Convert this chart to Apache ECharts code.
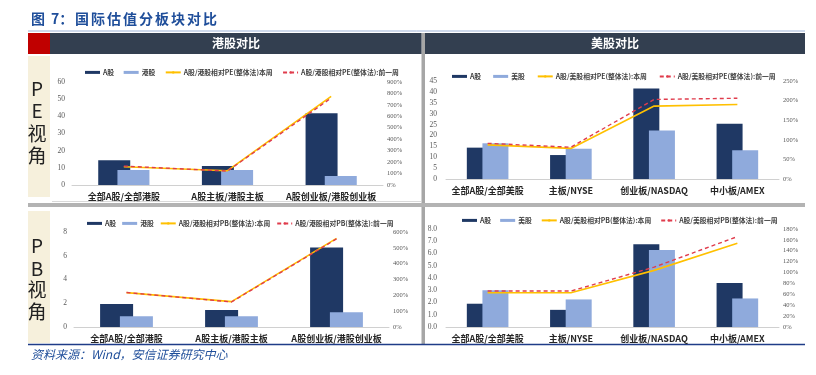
<!DOCTYPE html>
<html><head><meta charset="utf-8">
<script src="https://cdn.jsdelivr.net/npm/echarts@6/dist/echarts.min.js"></script>
<style>html,body{margin:0;padding:0;background:#fff}#c{width:816px;height:375px}</style>
</head><body><div id="c"></div>
<script>
const categoriesHK = ['全部A股/全部港股', 'A股主板/港股主板', 'A股创业板/港股创业板'];
const categoriesUS = ['全部A股/全部美股', '主板/NYSE', '创业板/NASDAQ', '中小板/AMEX'];
const hkPE_A = [14.4, 11.1, 41.8];
const hkPE_H = [8.7, 8.7, 5.2];
const hkPE_relNow = [160, 125, 775];
const hkPE_relPrev = [165, 122, 760];
const usPE_A = [14.4, 11.0, 41.6, 25.4];
const usPE_US = [16.4, 13.9, 22.3, 13.2];
const usPE_relNow = [87, 78, 186, 190];
const usPE_relPrev = [91, 81, 203, 206];
const hkPB_A = [1.94, 1.43, 6.7];
const hkPB_H = [0.9, 0.9, 1.24];
const hkPB_relNow = [217, 160, 560];
const hkPB_relPrev = [218, 158, 556];
const usPB_A = [1.9, 1.4, 6.75, 3.6];
const usPB_US = [3.0, 2.25, 6.28, 2.33];
const usPB_relNow = [63, 63, 104, 154];
const usPB_relPrev = [66, 66, 110, 166];
// axis ranges [min, max, interval]
const leftAxes = [[0, 60, 10], [0, 45, 5], [0, 8, 2], [0, 8, 1]];
const rightAxes = [[0, 900, 100], [0, 250, 50], [0, 600, 100], [0, 180, 20]];

const C_A = '#1f3864', C_B = '#8faadc', C_NOW = '#ffc000', C_PREV = '#e03c4c';
const NUMF = '"Liberation Serif", serif';
const CJK = '"Noto Sans CJK SC", sans-serif';

const chart = echarts.init(document.getElementById('c'));
const grids = [
  {left: 72, right: 433, top: 82, bottom: 190},
  {left: 446, right: 37, top: 81, bottom: 196},
  {left: 74, right: 427, top: 232, bottom: 48},
  {left: 446, right: 37, top: 229, bottom: 48}
];
const cats = [categoriesHK, categoriesUS, categoriesHK, categoriesUS];
const xAxis = cats.map((c, i) => ({
  type: 'category', gridIndex: i, data: c,
  axisLine: {lineStyle: {color: '#d0d0d0', width: 1}},
  axisTick: {show: false},
  axisLabel: {fontSize: 9, fontWeight: 'bold', color: '#262626', fontFamily: CJK, margin: 7, interval: 0}
}));
const yAxis = [];
for (let i = 0; i < 4; i++) {
  const l = leftAxes[i], r = rightAxes[i];
  yAxis.push({
    type: 'value', gridIndex: i, min: l[0], max: l[1], interval: l[2],
    axisLine: {show: false}, axisTick: {show: false}, splitLine: {show: false},
    axisLabel: {fontSize: 7.5, color: '#595959', fontFamily: NUMF, margin: i % 2 ? 9 : 7,
      formatter: i === 3 ? (v => v.toFixed(1)) : '{value}'}
  });
  yAxis.push({
    type: 'value', gridIndex: i, position: 'right', min: r[0], max: r[1], interval: r[2],
    axisLine: {show: false}, axisTick: {show: false}, splitLine: {show: false},
    axisLabel: {fontSize: 6.5, color: '#595959', fontFamily: NUMF, margin: 4, formatter: '{value}%'}
  });
}
const barW = [32, 26, 33, 26];
const panels = [
  {a: hkPE_A, b: hkPE_H, now: hkPE_relNow, prev: hkPE_relPrev, bn: '港股', ln: 'A股/港股相对PE(整体法)本周', lp: 'A股/港股相对PE(整体法):前一周'},
  {a: usPE_A, b: usPE_US, now: usPE_relNow, prev: usPE_relPrev, bn: '美股', ln: 'A股/美股相对PE(整体法):本周', lp: 'A股/美股相对PE(整体法):前一周'},
  {a: hkPB_A, b: hkPB_H, now: hkPB_relNow, prev: hkPB_relPrev, bn: '港股', ln: 'A股/港股相对PB(整体法):本周', lp: 'A股/港股相对PB(整体法):前一周'},
  {a: usPB_A, b: usPB_US, now: usPB_relNow, prev: usPB_relPrev, bn: '美股', ln: 'A股/美股相对PB(整体法):本周', lp: 'A股/美股相对PB(整体法):前一周'}
];
const series = [];
const legends = [];
const legendPos = [[80, 64], [447, 68], [82, 215], [457, 212]];
const legendGap = [9.5, 12, 6, 9];
panels.forEach((p, i) => {
  series.push({name: 'A股', type: 'bar', xAxisIndex: i, yAxisIndex: 2 * i, data: p.a, barWidth: barW[i], barGap: '-40%', itemStyle: {color: C_A}});
  series.push({name: p.bn, type: 'bar', xAxisIndex: i, yAxisIndex: 2 * i, data: p.b, barWidth: barW[i], barGap: '-40%', itemStyle: {color: C_B}});
  series.push({name: p.ln, type: 'line', xAxisIndex: i, yAxisIndex: 2 * i + 1, data: p.now, symbol: 'none', lineStyle: {color: C_NOW, width: 1.6}, itemStyle: {color: C_NOW}});
  series.push({name: p.lp, type: 'line', xAxisIndex: i, yAxisIndex: 2 * i + 1, data: p.prev, symbol: 'none', lineStyle: {color: C_PREV, width: 1.4, type: [4, 3]}, itemStyle: {color: C_PREV}});
  legends.push({
    left: legendPos[i][0], top: legendPos[i][1], itemWidth: 15, itemHeight: 3, itemGap: legendGap[i],
    data: [
      {name: 'A股', icon: 'rect'}, {name: p.bn, icon: 'rect'}, {name: p.ln}, {name: p.lp}
    ],
    textStyle: {fontSize: 6.8, fontWeight: 'bold', color: '#404040', fontFamily: CJK, padding: [0, 0, 0, -2]}
  });
});

const bigText = (t, x, y) => ({type: 'text', x: x, y: y, style: {text: t, fontSize: 19, fill: '#222', fontFamily: CJK, align: 'center', verticalAlign: 'middle'}});
const titleChars = ['图', '7：', '国', '际', '估', '值', '分', '板', '块', '对', '比'];
const titleX = [31, 51, 75, 91, 107, 123, 139, 155, 171, 187, 203];
const graphic = [
  {type: 'line', shape: {x1: 28, y1: 31, x2: 805, y2: 31}, style: {stroke: '#9fb4d8', lineWidth: 1}},
  {type: 'rect', shape: {x: 421.5, y: 33, width: 3.5, height: 311}, style: {fill: '#a6a6a6'}},
  {type: 'rect', shape: {x: 28, y: 33, width: 22, height: 21}, style: {fill: '#c00000'}},
  {type: 'rect', shape: {x: 50, y: 33, width: 371.5, height: 21}, style: {fill: '#333f50'}},
  {type: 'rect', shape: {x: 425, y: 33, width: 380, height: 21}, style: {fill: '#333f50'}},
  {type: 'text', x: 236, y: 43.5, style: {text: '港股对比', fontSize: 12, fontWeight: 'bold', fill: '#fff', fontFamily: CJK, align: 'center', verticalAlign: 'middle'}},
  {type: 'text', x: 615, y: 43.5, style: {text: '美股对比', fontSize: 12, fontWeight: 'bold', fill: '#fff', fontFamily: CJK, align: 'center', verticalAlign: 'middle'}},
  {type: 'rect', shape: {x: 28, y: 56, width: 22, height: 141}, style: {fill: '#f6f0dc'}},
  {type: 'rect', shape: {x: 28, y: 211, width: 22, height: 132}, style: {fill: '#f6f0dc'}},
  {type: 'line', shape: {x1: 52, y1: 201.5, x2: 421, y2: 201.5}, style: {stroke: '#d9d9d9', lineWidth: 1}},
  {type: 'rect', shape: {x: 28, y: 203, width: 777, height: 4}, style: {fill: '#b3b3b3'}},
  {type: 'line', shape: {x1: 28, y1: 344.5, x2: 805, y2: 344.5}, style: {stroke: '#1f3c88', lineWidth: 1.5}},
  {type: 'text', x: 31, y: 354, style: {text: '资料来源：Wind，安信证券研究中心', fontSize: 12, fontStyle: 'italic', fill: '#1f4e9a', fontFamily: CJK, verticalAlign: 'middle'}},
  bigText('P', 37, 89), bigText('E', 37, 111), bigText('视', 37, 134), bigText('角', 37, 156),
  bigText('P', 37, 246), bigText('B', 37, 269), bigText('视', 37, 290), bigText('角', 37, 312)
];
titleChars.forEach((t, k) => graphic.push({type: 'text', x: titleX[k], y: 19,
  style: {text: t, fontSize: 14, fontWeight: 'bold', fill: '#1f4e9a', fontFamily: CJK, verticalAlign: 'middle'}}));

chart.setOption({
  animation: false,
  backgroundColor: '#fff',
  grid: grids,
  xAxis: xAxis,
  yAxis: yAxis,
  legend: legends,
  series: series,
  graphic: graphic
});
</script></body></html>
